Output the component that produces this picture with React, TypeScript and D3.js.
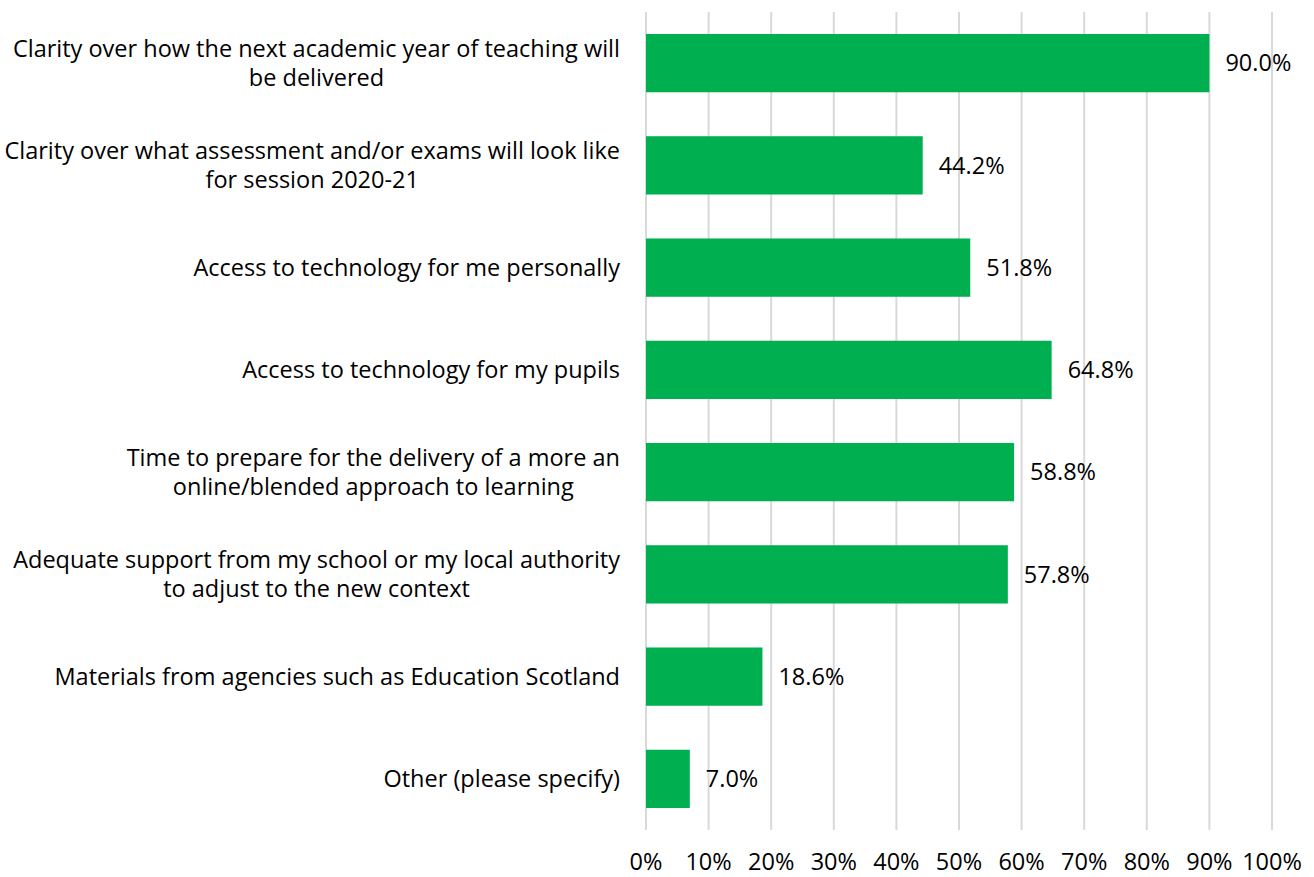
import React, { useEffect, useRef } from "react";
import * as d3 from "d3";

const width = 1314;
const height = 877;

const categories = [
    ["Clarity over how the next academic year of teaching will", "be delivered"],
    ["Clarity over what assessment and/or exams will look like", "for session 2020-21"],
    ["Access to technology for me personally"],
    ["Access to technology for my pupils"],
    ["Time to prepare for the delivery of a more an", "online/blended approach to learning"],
    ["Adequate support from my school or my local authority", "to adjust to the new context"],
    ["Materials from agencies such as Education Scotland"],
    ["Other (please specify)"],
];

const values = [90.0, 44.2, 51.8, 64.8, 58.8, 57.8, 18.6, 7.0];

const ticks = [0, 10, 20, 30, 40, 50, 60, 70, 80, 90, 100];

const font = "'Open Sans', sans-serif";
const fontSize = 23.5;

const App = () => {
    const ref = useRef<SVGGElement>(null);

    const x = d3.scaleLinear().domain([0, 100]).range([646, 1272]);
    const y = d3.scaleBand<number>()
        .domain(d3.range(values.length))
        .range([12, 830])
        .paddingInner(0.43)
        .paddingOuter(0.215);

    // centre the lines of each label on the widest one, block right aligned
    useEffect(() => {
        if (!ref.current) return;
        d3.select(ref.current).selectAll<SVGGElement, unknown>("g.cat").each(function () {
            const texts = d3.select(this).selectAll<SVGTextElement, unknown>("text");
            let maxW = 0;
            texts.each(function () { maxW = Math.max(maxW, this.getComputedTextLength()); });
            texts.attr("x", 620 - maxW / 2).attr("text-anchor", "middle");
        });
    }, []);

    const lineH = 29;

    return (
        <svg width={width} height={height} style={{ position: "absolute", left: 0, top: 0 }} fontFamily={font}>
            <g ref={ref}>
                {ticks.map(t => (
                    <line key={t} x1={x(t)} x2={x(t)} y1={12} y2={830} stroke="#d9d9d9" strokeWidth={2} />
                ))}
                {values.map((v, i) => (
                    <rect key={i} x={x(0)} y={y(i)} width={x(v) - x(0)} height={y.bandwidth()} fill="#00b050" />
                ))}
                {values.map((v, i) => (
                    <text key={i} x={x(v) + 16} y={y(i)! + y.bandwidth() / 2} dy="0.35em" fontSize={fontSize} fill="#000">
                        {v.toFixed(1)}%
                    </text>
                ))}
                {categories.map((lines, i) => {
                    const cy = y(i)! + y.bandwidth() / 2;
                    const y0 = cy - (lines.length - 1) * lineH / 2;
                    return (
                        <g className="cat" key={i}>
                            {lines.map((l, j) => (
                                <text key={j} x={620} y={y0 + j * lineH} dy="0.35em" textAnchor="end" fontSize={fontSize} fill="#000">
                                    {l}
                                </text>
                            ))}
                        </g>
                    );
                })}
                {ticks.map(t => (
                    <text key={t} x={x(t)} y={862} dy="0.35em" textAnchor="middle" fontSize={fontSize} fill="#000">
                        {t}%
                    </text>
                ))}
            </g>
        </svg>
    );
};

export default App;
